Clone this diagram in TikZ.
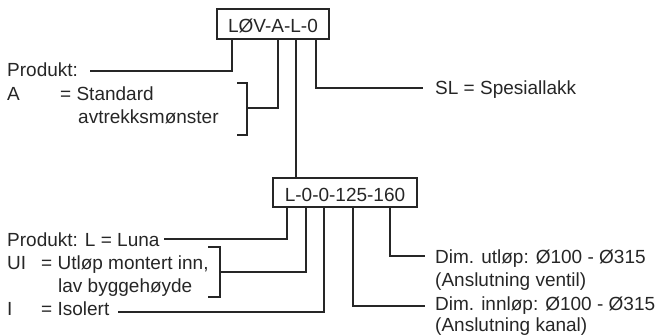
\documentclass[tikz,border=0pt]{standalone}
\usepackage{fontspec}
\setmainfont{Liberation Sans}
\usetikzlibrary{positioning}
\definecolor{ink}{HTML}{262626}
\tikzset{
lead/.style={draw=ink, line width=1.6pt}, % the thin leader lines
codebox/.style={draw=ink, line width=1.6pt, inner sep=0pt, outer sep=0pt, text=ink,
  font=\fontsize{19}{23}\selectfont, text height=17.6pt, text depth=0pt}, % the boxed type codes
lbl/.style={anchor=base west, inner sep=0pt, text=ink, font=\fontsize{19}{23}\selectfont}, % explanations
}

\begin{document}
\begin{tikzpicture}[x=1pt, y=-1pt]
    \useasboundingbox (0,0) rectangle (659,336);
    \node[codebox, minimum width=112pt, minimum height=30pt] at (273,24) (top) {LØV-A-L-0};
    \node[codebox, minimum width=144pt, minimum height=29pt] at (345,192.5) (low) {L-0-0-125-160};
    \coordinate (t1) at ([xshift=15pt]top.south west);
    \coordinate (t2) at ([xshift=61pt]top.south west);
    \coordinate (t3) at ([xshift=79pt]top.south west);
    \coordinate (t4) at ([xshift=99pt]top.south west);
    \coordinate (s1) at ([xshift=14pt]low.south west);
    \coordinate (s2) at ([xshift=33pt]low.south west);
    \coordinate (s3) at ([xshift=51pt]low.south west);
    \coordinate (s4) at ([xshift=80pt]low.south west);
    \coordinate (s5) at ([xshift=117pt]low.south west);
    \node[lbl] at (7,77) (prod) {Produkt:};
    \node[lbl] at (7,101) (a) {A};
    \node[lbl] at (60,101) (aval) {= Standard};
    \node[lbl] at (78,124) (amore) {avtrekksmønster};
    \node[lbl] at (435,95) (sl) {SL = Spesiallakk};
    \node[lbl] at (7,247) (luna) {Produkt: L = Luna};
    \node[lbl] at (7,270) (ui) {UI};
    \node[lbl] at (41,270) (uival) {= Utløp montert inn,};
    \node[lbl] at (58,293) (uimore) {lav byggehøyde};
    \node[lbl] at (7,316) (iso) {I};
    \node[lbl] at (41,316) (isoval) {= Isolert};
    \node[lbl] at (435,264) (ut) {Dim. utløp: Ø100 - Ø315};
    \node[lbl] at (435,287) (utmore) {(Anslutning ventil)};
    \node[lbl] at (435,311) (inn) {Dim. innløp: Ø100 - Ø315};
    \node[lbl] at (435,332) (innmore) {(Anslutning kanal)};
    % free ends of the leaders
    \coordinate (e1) at (90,71);
    \coordinate (b1) at (247,108);
    \coordinate (e4) at (423,88);
    \coordinate (f1) at (164,239);
    \coordinate (b2) at (220,272);
    \coordinate (f3) at (118,312);
    \coordinate (f4) at (425,306);
    \coordinate (f5) at (425,256);
    \draw[lead]
    (t1) |- (e1)
    (t2) |- (b1)
    (t3) -- (t3 |- low.north)
    (t4) |- (e4)
    (s1) |- (f1)
    (s2) |- (b2)
    (s3) |- (f3)
    (s4) |- (f4)
    (s5) |- (f5)
    ;
    % brackets
    \draw[lead] (237,83) -| (b1 |- 0,135) -- (237,135);
    \draw[lead] (208,247) -| (b2 |- 0,297) -- (208,297);
\end{tikzpicture}
\end{document}
